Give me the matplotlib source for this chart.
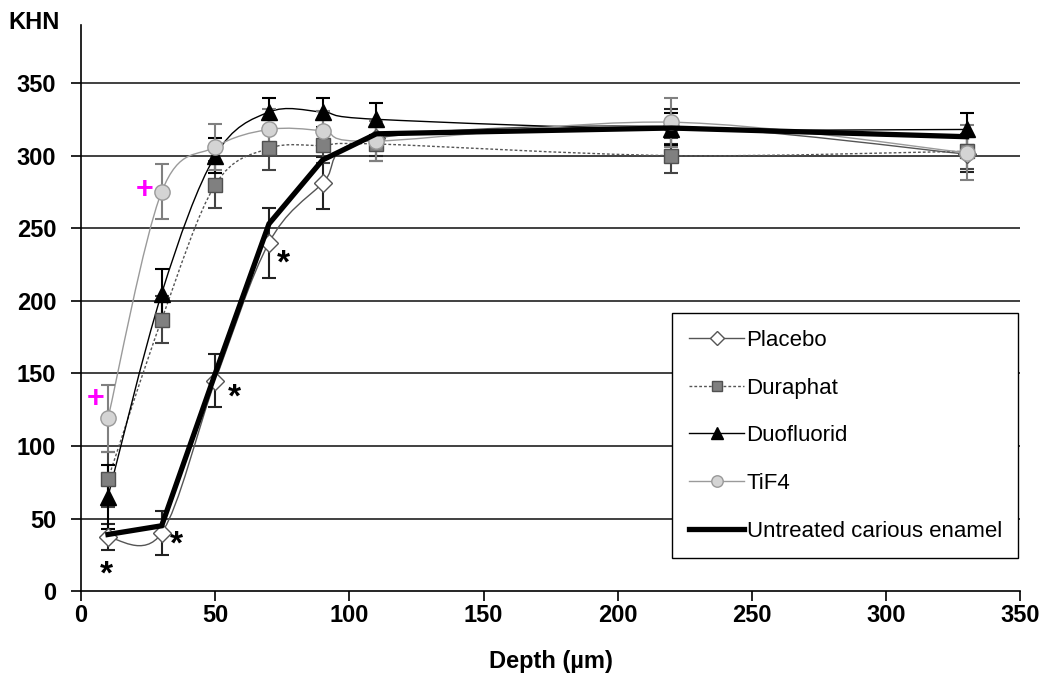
import numpy as np
import matplotlib
import matplotlib.pyplot as plt
from matplotlib.path import Path
from matplotlib.patches import PathPatch
from matplotlib.lines import Line2D

matplotlib.rc('font', family='Liberation Sans', size=15)

depth = [10, 30, 50, 70, 90, 110, 220, 330]

placebo = [37, 40, 145, 240, 281, 312, 320, 301]
placebo_err = [9, 15, 18, 24, 18, 12, 12, 12]
duraphat = [77, 187, 280, 305, 307, 308, 300, 303]
duraphat_err = [19, 16, 16, 15, 12, 12, 12, 12]
duofluorid = [65, 205, 300, 330, 330, 325, 318, 318]
duofluorid_err = [22, 17, 12, 10, 10, 11, 11, 11]
tif4 = [119, 275, 306, 318, 317, 310, 323, 302]
tif4_err = [23, 19, 16, 14, 14, 14, 17, 19]
untreated = [39, 45, 150, 253, 297, 315, 319, 313]

# significance marks
star_x = [9.5, 35.5, 57, 75.5]
star_y = [11, 32, 133, 225]
plus_x = [5.5, 23.5]
plus_y = [132, 276]


def smooth_path(x, y):
    # excel style smoothed line as cubic bezier through the points
    p = np.column_stack([x, y]).astype(float)
    n = len(p)
    verts = [p[0]]
    codes = [Path.MOVETO]
    for i in range(n - 1):
        a = p[i - 1] if i > 0 else p[i]
        d = p[i + 2] if i + 2 < n else p[i + 1]
        c1 = p[i] + (p[i + 1] - a) / 6
        c2 = p[i + 1] - (d - p[i]) / 6
        verts += [c1, c2, p[i + 1]]
        codes += [Path.CURVE4] * 3
    return Path(verts, codes)


fig = plt.figure(figsize=(10.47, 6.74), dpi=100)
ax = fig.add_axes([0.0775, 0.123, 0.897, 0.84])

series = [
    ('Placebo', placebo, placebo_err, dict(color='#555555', ls='-', lw=1.0),
     dict(marker='D', ms=9, mfc='white', mec='#555555'), '#222222'),
    ('Duraphat', duraphat, duraphat_err, dict(color='#555555', ls=(0, (2, 1.5)), lw=1.0),
     dict(marker='s', ms=10, mfc='#808080', mec='#505050'), '#444444'),
    ('Duofluorid', duofluorid, duofluorid_err, dict(color='black', ls='-', lw=1.0),
     dict(marker='^', ms=11, mfc='black', mec='black'), 'black'),
    ('TiF4', tif4, tif4_err, dict(color='#9a9a9a', ls='-', lw=1.0),
     dict(marker='o', ms=11, mfc='#d4d4d4', mec='#999999'), '#808080'),
]

handles = []
for name, vals, err, lstyle, mstyle, ecol in series:
    ax.add_patch(PathPatch(smooth_path(depth, vals), fill=False, zorder=3,
                           edgecolor=lstyle['color'], linestyle=lstyle['ls'], lw=lstyle['lw']))
    ax.errorbar(depth, vals, yerr=err, fmt='none', ecolor=ecol, elinewidth=1.5,
                capsize=5, capthick=1.5, zorder=3)
    ax.plot(depth, vals, ls='none', zorder=4, **mstyle)
    handles.append(Line2D([], [], color=lstyle['color'], ls=lstyle['ls'], lw=lstyle['lw'],
                          **mstyle))

ax.plot(depth, untreated, color='black', lw=3.8, zorder=5, solid_joinstyle='miter')
handles.append(Line2D([], [], color='black', lw=3.8))

for sx, sy in zip(star_x, star_y):
    ax.text(sx, sy, '*', fontsize=24, fontweight='bold', ha='center', va='center')
for px, py in zip(plus_x, plus_y):
    ax.text(px, py, '+', fontsize=22, fontweight='bold', color='#ff00ff',
            ha='center', va='center')

leg = ax.legend(handles, ['Placebo', 'Duraphat', 'Duofluorid', 'TiF4',
                          'Untreated carious enamel'],
                loc='lower right', bbox_to_anchor=(0.998, 0.058), fontsize=16,
                fancybox=False, edgecolor='black', framealpha=1, labelspacing=1.2,
                handlelength=2.5, handletextpad=0.1, borderpad=0.75, borderaxespad=0,
                markerscale=0.75)
leg.get_frame().set_linewidth(1.0)

ax.set_xlim(0, 350)
ax.set_ylim(0, 390)
ax.set_xticks(range(0, 351, 50))
ax.set_yticks(range(0, 351, 50))
for t in ax.get_xticklabels() + ax.get_yticklabels():
    t.set_fontweight('bold')
    t.set_fontsize(17)
ax.tick_params(axis='both', direction='out', length=7, width=1.2)
ax.tick_params(axis='x', pad=2)
ax.tick_params(axis='y', pad=11)
for gy in range(50, 351, 50):
    ax.axhline(gy, color='#404040', lw=1.4, zorder=1)
ax.spines['top'].set_visible(False)
ax.spines['right'].set_visible(False)
ax.spines['left'].set_linewidth(1.2)
ax.spines['bottom'].set_linewidth(1.2)

ax.set_xlabel('Depth (µm)', fontweight='bold', fontsize=17, labelpad=17)
fig.text(0.008, 0.967, 'KHN', fontweight='bold', fontsize=17, va='center')

fig.savefig('out.png', dpi=100)
